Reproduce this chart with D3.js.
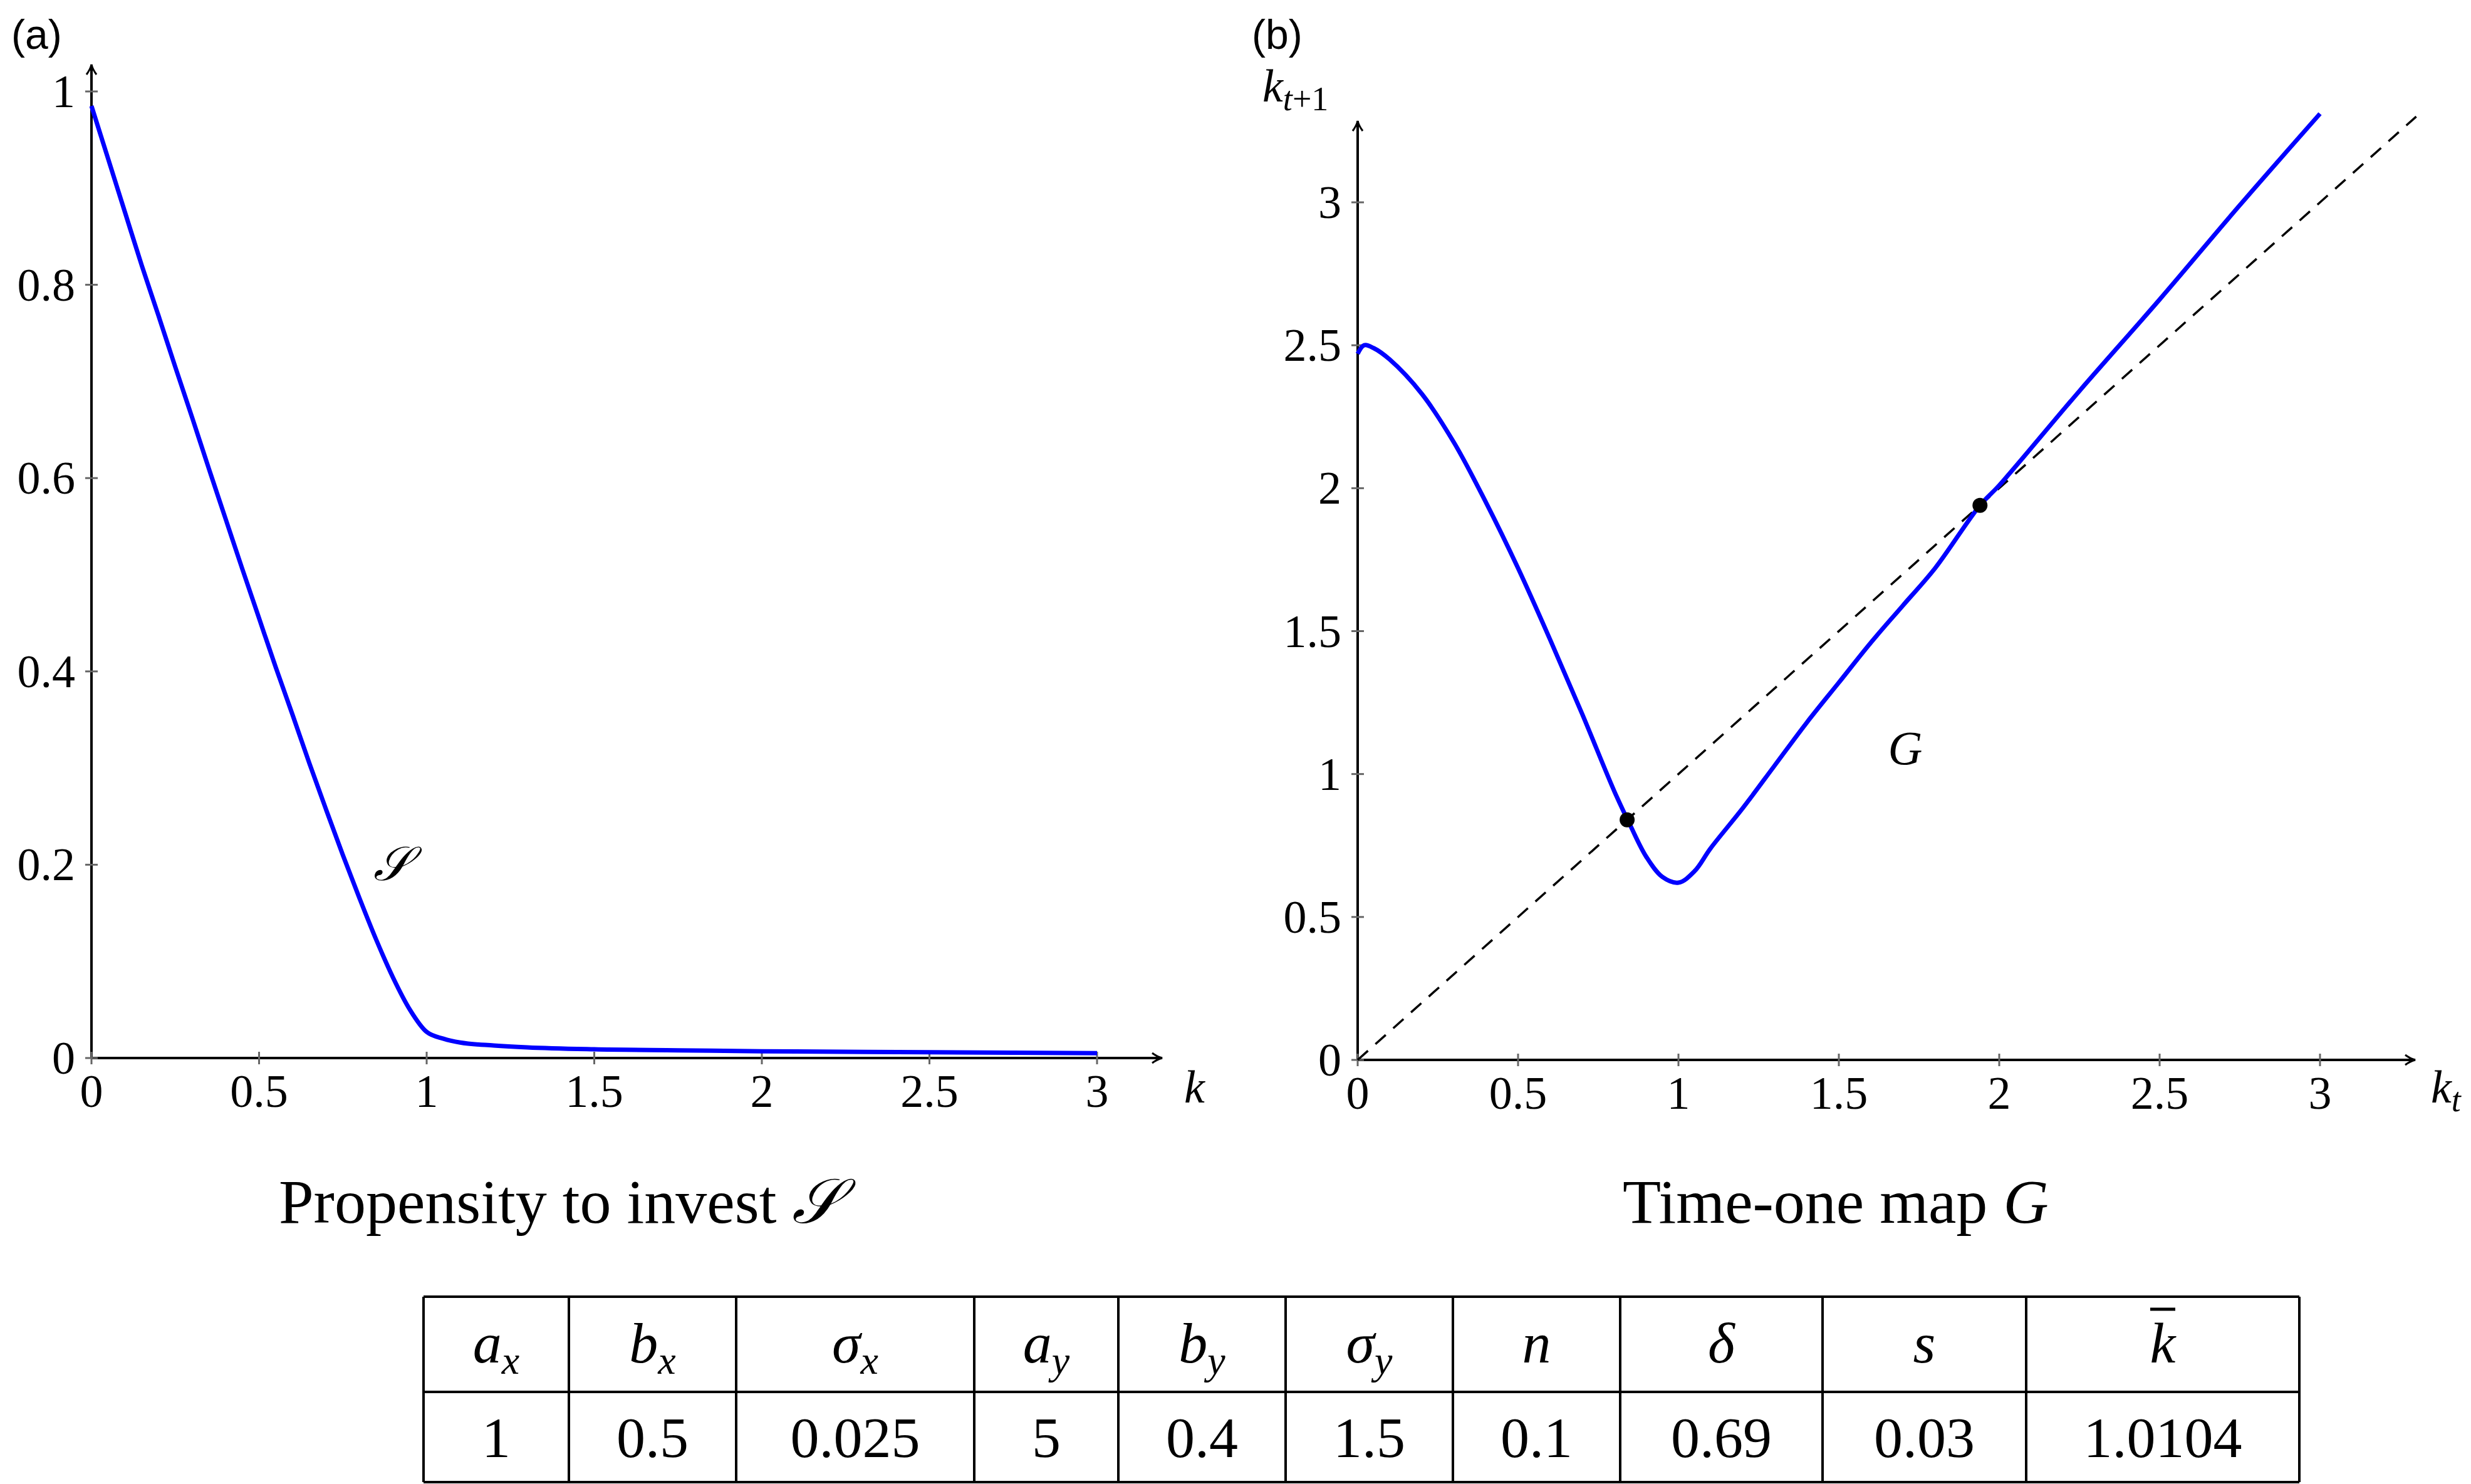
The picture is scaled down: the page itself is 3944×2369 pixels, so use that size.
<!DOCTYPE html>
<html><head><meta charset="utf-8">
<script src="https://cdn.jsdelivr.net/npm/d3@7"></script>
<style>body{margin:0;background:#fff}</style></head>
<body><svg id="c" width="3944" height="2369"></svg>
<script>
const sK = [0,0.05,0.1,0.15,0.2,0.25,0.3,0.35,0.4,0.45,0.5,0.55,0.6,0.65,0.7,0.75,0.8,0.85,0.9,0.95,1.0,1.05,1.1,1.2,1.3,1.5,1.75,2,2.5,3];
const sVal = [0.985,0.93,0.875,0.82,0.768,0.715,0.663,0.61,0.558,0.506,0.455,0.404,0.355,0.305,0.257,0.21,0.165,0.122,0.083,0.05,0.027,0.02,0.016,0.013,0.011,0.009,0.008,0.007,0.006,0.005];
const gK = [0,0.02,0.05,0.1,0.2,0.3,0.4,0.5,0.6,0.7,0.8,0.85,0.9,0.95,1.0,1.05,1.1,1.2,1.3,1.4,1.5,1.6,1.7,1.8,1.94,2.0,2.25,2.5,2.75,3.0];
const gVal = [2.47,2.5,2.49,2.45,2.33,2.16,1.95,1.72,1.47,1.21,0.94,0.82,0.71,0.64,0.62,0.66,0.74,0.88,1.03,1.18,1.32,1.46,1.59,1.72,1.94,2.01,2.34,2.66,2.99,3.31];
const fixedPts = [0.84,1.94];
const ticksA_x = [0,0.5,1,1.5,2,2.5,3], ticksA_y=[0,0.2,0.4,0.6,0.8,1];
const ticksB_x = [0,0.5,1,1.5,2,2.5,3], ticksB_y=[0,0.5,1,1.5,2,2.5,3];
const tblHead = ["a_x","b_x","σ_x","a_y","b_y","σ_y","n","δ","s","k̄"];
const tblVals = ["1","0.5","0.025","5","0.4","1.5","0.1","0.69","0.03","1.0104"];
const colEdges = [676,908,1175,1555,1785,2052,2319,2586,2909,3234,3670];

const svg=d3.select("#c");
const F="'Liberation Serif','DejaVu Serif',serif";
svg.append("defs").append("marker").attr("id","ar").attr("viewBox","0 0 20 20").attr("refX",18).attr("refY",10)
 .attr("markerWidth",20).attr("markerHeight",20).attr("markerUnits","userSpaceOnUse").attr("orient","auto")
 .append("path").attr("d","M2,2 Q10,8 18,10 Q10,12 2,18").attr("fill","none").attr("stroke","#000").attr("stroke-width",3);

function panel(xs,ys,xt,yt,xEnd,yTop,fmt){
  const g=svg.append("g");
  g.append("line").attr("x1",xs(0)).attr("y1",ys(0)).attr("x2",xEnd).attr("y2",ys(0)).attr("stroke","#000").attr("stroke-width",4).attr("marker-end","url(#ar)");
  g.append("line").attr("x1",xs(0)).attr("y1",ys(0)).attr("x2",xs(0)).attr("y2",yTop).attr("stroke","#000").attr("stroke-width",4).attr("marker-end","url(#ar)");
  xt.forEach(t=>{g.append("line").attr("x1",xs(t)).attr("x2",xs(t)).attr("y1",ys(0)-10).attr("y2",ys(0)+10).attr("stroke","#666").attr("stroke-width",3);
    g.append("text").attr("x",xs(t)).attr("y",ys(0)+78).attr("text-anchor","middle").attr("font-family",F).attr("font-size",74).text(fmt(t));});
  yt.forEach(t=>{g.append("line").attr("y1",ys(t)).attr("y2",ys(t)).attr("x1",xs(0)-10).attr("x2",xs(0)+10).attr("stroke","#666").attr("stroke-width",3);
    g.append("text").attr("x",xs(0)-26).attr("y",ys(t)+25).attr("text-anchor","end").attr("font-family",F).attr("font-size",74).text(fmt(t));});
  return g;
}
const fmt=d=>String(d);
// Panel a
const xa=d3.scaleLinear().domain([0,3]).range([146,1751]);
const ya=d3.scaleLinear().domain([0,1]).range([1689,146]);
panel(xa,ya,ticksA_x,ticksA_y,1855,103,fmt);
svg.append("path").datum(sK.map((k,i)=>[k,sVal[i]])).attr("d",d3.line().x(d=>xa(d[0])).y(d=>ya(d[1])).curve(d3.curveMonotoneX))
 .attr("fill","none").attr("stroke","#0000ff").attr("stroke-width",7);
svg.append("text").attr("x",1890).attr("y",1760).attr("font-family",F).attr("font-style","italic").attr("font-size",74).text("k");
svg.append("text").attr("x",625).attr("y",1405).attr("text-anchor","middle").attr("font-family",F).attr("font-style","italic").attr("font-size",76).text("𝒮");
// Panel b
const xb=d3.scaleLinear().domain([0,3]).range([2167,3703]);
const yb=d3.scaleLinear().domain([0,3]).range([1692,323]);
panel(xb,yb,ticksB_x,ticksB_y,3855,193,fmt);
svg.append("line").attr("x1",xb(0)).attr("y1",yb(0)).attr("x2",xb(3.3)).attr("y2",yb(3.3)).attr("stroke","#000").attr("stroke-width",3.5).attr("stroke-dasharray","22,16");
svg.append("path").datum(gK.map((k,i)=>[k,gVal[i]])).attr("d",d3.line().x(d=>xb(d[0])).y(d=>yb(d[1])).curve(d3.curveCatmullRom))
 .attr("fill","none").attr("stroke","#0000ff").attr("stroke-width",7);
fixedPts.forEach(p=>svg.append("circle").attr("cx",xb(p)).attr("cy",yb(p)).attr("r",12).attr("fill","#000"));
svg.append("text").attr("x",3041).attr("y",1220).attr("text-anchor","middle").attr("font-family",F).attr("font-style","italic").attr("font-size",76).text("G");
const kt1=svg.append("text").attr("x",2015).attr("y",162).attr("font-family",F).attr("font-size",74);
kt1.append("tspan").attr("font-style","italic").text("k");
kt1.append("tspan").attr("font-size",54).attr("dy",14).attr("font-style","italic").text("t");
kt1.append("tspan").attr("font-size",54).text("+1");
const kt=svg.append("text").attr("x",3880).attr("y",1760).attr("font-family",F).attr("font-size",74);
kt.append("tspan").attr("font-style","italic").text("k");
kt.append("tspan").attr("font-size",54).attr("dy",14).attr("font-style","italic").text("t");
// panel labels
svg.append("text").attr("x",18).attr("y",78).attr("font-family","'Liberation Sans',Arial,sans-serif").attr("font-size",66).text("(a)");
svg.append("text").attr("x",1998).attr("y",78).attr("font-family","'Liberation Sans',Arial,sans-serif").attr("font-size",66).text("(b)");
// titles
const t1=svg.append("text").attr("x",445).attr("y",1952).attr("font-family",F).attr("font-size",100).text("Propensity to invest ");
t1.append("tspan").attr("font-style","italic").text("𝒮");
const t2=svg.append("text").attr("x",2590).attr("y",1952).attr("font-family",F).attr("font-size",100).text("Time-one map ");
t2.append("tspan").attr("font-style","italic").text("G");
// table
const rows=[2070,2222,2366];
const tg=svg.append("g").attr("stroke","#000").attr("stroke-width",4);
rows.forEach(y=>tg.append("line").attr("x1",colEdges[0]).attr("x2",colEdges[10]).attr("y1",y).attr("y2",y));
colEdges.forEach(x=>tg.append("line").attr("x1",x).attr("x2",x).attr("y1",rows[0]).attr("y2",rows[2]));
tblHead.forEach((h,i)=>{
  const cx=(colEdges[i]+colEdges[i+1])/2;
  const t=svg.append("text").attr("x",cx).attr("y",2175).attr("text-anchor","middle").attr("font-family",F).attr("font-size",92);
  const parts=h.split("_");
  if(h==="k̄"){t.attr("font-style","italic").text("k");
    svg.append("line").attr("x1",cx-20).attr("x2",cx+20).attr("y1",2090).attr("y2",2090).attr("stroke","#000").attr("stroke-width",5);}
  else{t.append("tspan").attr("font-style","italic").text(parts[0]);
    if(parts[1]) t.append("tspan").attr("font-style","italic").attr("font-size",64).attr("dy",18).text(parts[1]);}
});
tblVals.forEach((v,i)=>svg.append("text").attr("x",(colEdges[i]+colEdges[i+1])/2).attr("y",2326).attr("text-anchor","middle").attr("font-family",F).attr("font-size",92).text(v));
</script></body></html>
